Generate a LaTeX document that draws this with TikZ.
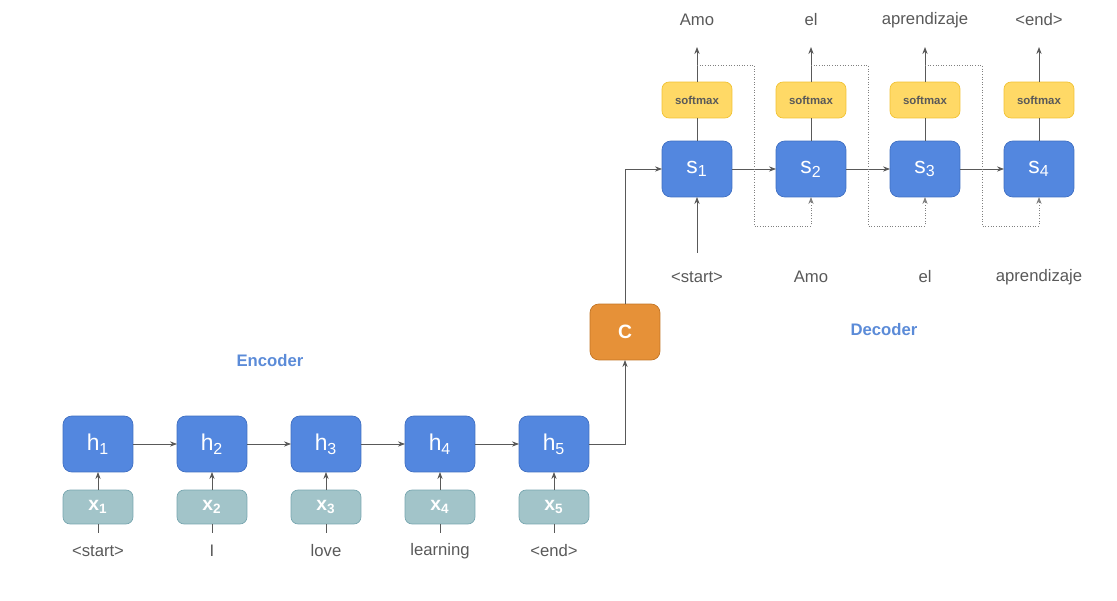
\documentclass[tikz,border=0pt]{standalone}
\usepackage{fontspec}
\setmainfont{Liberation Sans}
\usetikzlibrary{arrows.meta}
\definecolor{cellblue}{HTML}{5387DF}
\definecolor{cellline}{HTML}{3F6FC2}
\definecolor{embfill}{HTML}{A2C4C9}
\definecolor{embline}{HTML}{76A5AF}
\definecolor{smfill}{HTML}{FFD966}
\definecolor{smline}{HTML}{F1C232}
\definecolor{ctxfill}{HTML}{E69138}
\definecolor{ctxline}{HTML}{C27424}
\definecolor{wordgray}{HTML}{595959}
\definecolor{titleblue}{HTML}{5B8BD8}
\begin{document}
\begin{tikzpicture}[x=0.02cm, y=-0.02cm]
\tikzset{ >={Stealth[length=4pt,width=3pt]}, inner sep=0pt, outer sep=0pt,
  cell/.style={draw=cellline, fill=cellblue, rounded corners=5pt, minimum width=1.4cm, minimum height=1.12cm, text=white, font=\fontsize{13}{13}\selectfont},
  emb/.style={draw=embline, fill=embfill, rounded corners=4pt, minimum width=1.4cm, minimum height=0.68cm, text=white, font=\bfseries\fontsize{11}{11}\selectfont},
  smax/.style={draw=smline, fill=smfill, rounded corners=4pt, minimum width=1.4cm, minimum height=0.72cm, text=wordgray, font=\bfseries\fontsize{6.5}{6.5}\selectfont},
  ctx/.style={draw=ctxline, fill=ctxfill, rounded corners=5pt, minimum width=1.4cm, minimum height=1.12cm, text=white, font=\bfseries\fontsize{11}{11}\selectfont},
  word/.style={text=wordgray, font=\fontsize{9.5}{9.5}\selectfont},
  title/.style={text=titleblue, font=\bfseries\fontsize{9.5}{9.5}\selectfont},
  link/.style={->, draw=wordgray, line width=0.5pt},
  feed/.style={->, draw=gray, densely dotted, line width=0.5pt},
}
\useasboundingbox (0,0) rectangle (1117,601);

% encoder
\foreach \i/\x/\w in {1/98/<start>, 2/212/I, 3/326/love, 4/440/learning, 5/554/<end>} {
  \node [cell] (h\i) at (\x,444) {h\textsubscript{\i}};
  \node [emb]  (x\i) at (\x,507) {x\textsubscript{\i}};
  \node [word] (w\i) at (\x,551) {\w};
  \draw [link] (x\i) -- (h\i);
  \draw [draw=wordgray, line width=0.5pt] (w\i.north |- 0,533) -- (x\i);
}
\foreach \i/\j in {1/2, 2/3, 3/4, 4/5}
  \draw [link] (h\i) -- (h\j);

\node [title] (enc) at (270,361) {Encoder};
\node [title] (dec) at (884,330) {Decoder};

% context
\node [ctx] (C) at (625,332) {C};
\draw [link] (h5.east) -| (C.south);

% decoder
\foreach \i/\x/\o/\n in {1/697/Amo/<start>, 2/811/el/Amo, 3/925/aprendizaje/el, 4/1039/<end>/aprendizaje} {
  \node [cell] (s\i) at (\x,169) {s\textsubscript{\i}};
  \node [smax] (m\i) at (\x,100) {softmax};
  \node [word] (o\i) at (\x,20) {\o};
  \node [word] (n\i) at (\x,277) {\n};
  \coordinate (t\i) at (\x,47);
  \draw [draw=wordgray, line width=0.5pt] (s\i) -- (m\i);
  \draw [link] (m\i) -- (t\i);
}
\draw [link] (C.north) |- (s1.west);
\draw [link] (697,253) -- (s1.south);
\foreach \i/\j in {1/2, 2/3, 3/4}
  \draw [link] (s\i) -- (s\j);

% feedback
\foreach \i/\j/\x in {1/2/754, 2/3/868, 3/4/982}
  \draw [feed] (t\i |- 0,65) -- (\x,65) -- (\x,226) -| (s\j.south);

\end{tikzpicture}
\end{document}
